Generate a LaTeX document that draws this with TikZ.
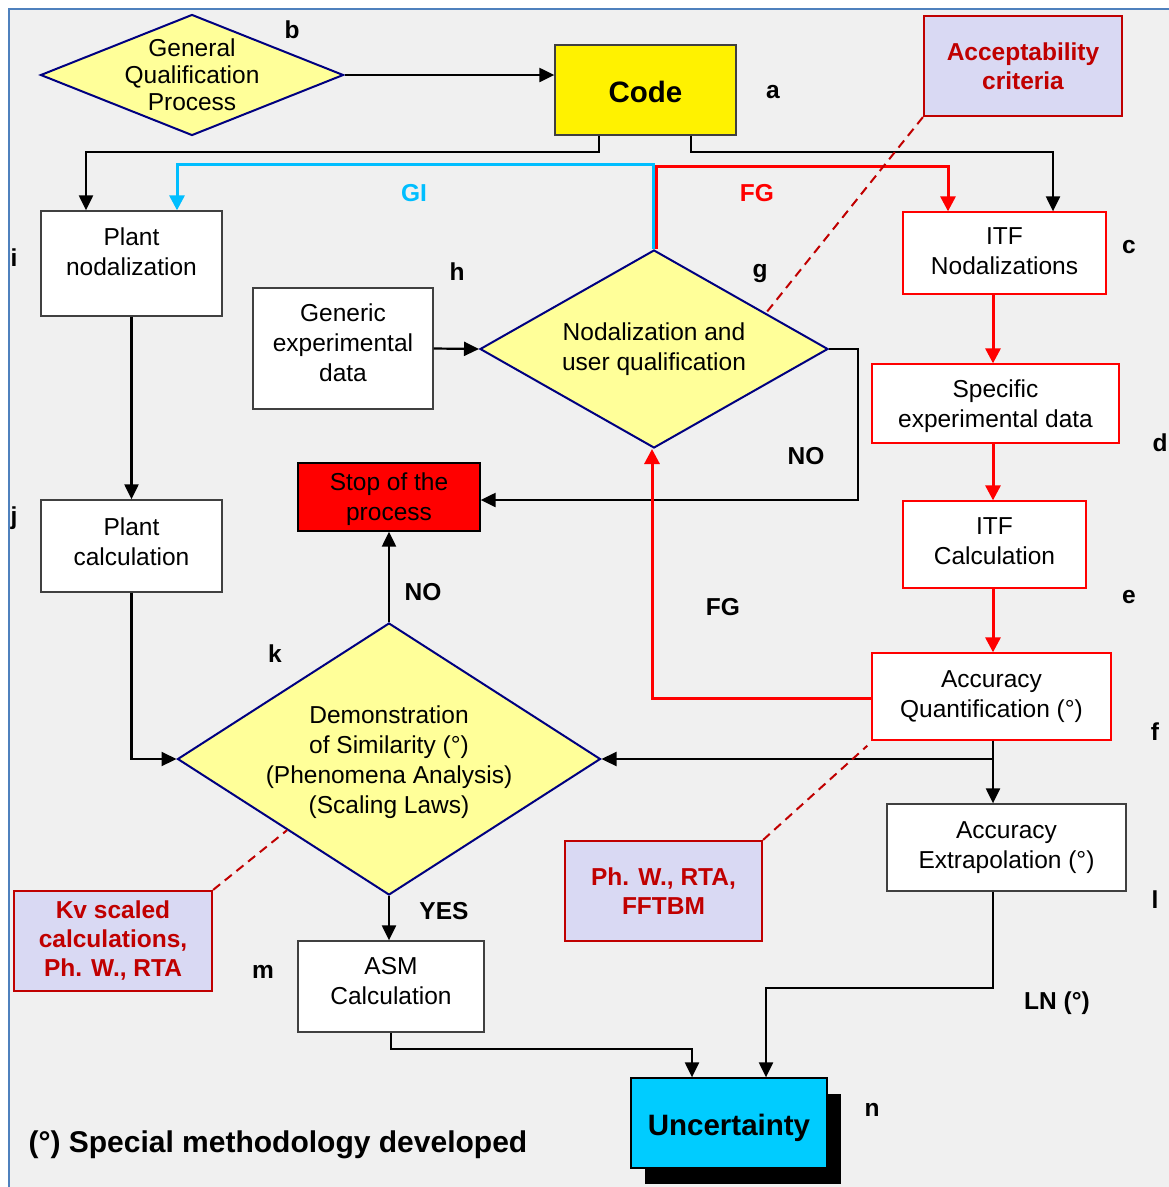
\documentclass[tikz,border=0pt]{standalone}
\usepackage{fontspec}
\setmainfont{Liberation Sans}
\usetikzlibrary{shapes.geometric,arrows.meta,calc,shadows}

\definecolor{bggray}{RGB}{240,240,240}
\definecolor{frameblue}{RGB}{79,129,189}
\definecolor{diafill}{RGB}{255,255,153}
\definecolor{navy}{RGB}{0,0,128}
\definecolor{boxedge}{RGB}{64,64,64}
\definecolor{darkred}{RGB}{192,0,0}
\definecolor{lavender}{RGB}{217,217,243}
\definecolor{giblue}{RGB}{0,190,255}
\definecolor{uncblue}{RGB}{0,204,255}

\tikzset{
  txt/.style={font=\fontsize{24.5}{30}\selectfont, align=center, inner sep=0pt},
  plainbox/.style={rectangle, draw=boxedge, line width=1.3pt, fill=white, inner sep=0pt},
  itfbox/.style={plainbox, draw=red},
  notebox/.style={rectangle, draw=darkred, line width=2.2pt, fill=lavender, inner sep=0pt,
    align=center, text=darkred, font=\bfseries\fontsize{24.5}{29}\selectfont},
  decision/.style={diamond, draw=navy, line width=2pt, fill=diafill, inner sep=0pt},
  tag/.style={font=\bfseries\fontsize{24.5}{30}\selectfont},
  conn/.style={draw=black, line width=2.2pt, -{Triangle[length=15pt,width=14pt]}},
  fgline/.style={draw=red, line width=3pt, -{Triangle[length=15pt,width=15pt]}},
  giline/.style={draw=giblue, line width=3pt, -{Triangle[length=15pt,width=15pt]}},
  noteline/.style={draw=darkred, line width=2pt, dash pattern=on 9pt off 6pt},
}

\begin{document}
\begin{tikzpicture}[x=1pt, y=-1pt]
  % page and frame
  \useasboundingbox (0,0) rectangle (1169,1187);
  \fill[white] (0,0) rectangle (1169,1187);
  \fill[bggray] (9,9) rectangle (1169,1187);
  \draw[frameblue, line width=1.5pt] (9,1187) -- (9,9) -- (1169,9);

  % column of the ITF chain
  \coordinate (col) at (993,0);

  % shapes
  \node[decision, minimum width=303pt, minimum height=121pt] (gqp) at (192,75) {};
  \node[plainbox, fill=yellow, minimum width=181pt, minimum height=90pt] (code) at (645.5,90) {};
  \node[notebox, minimum width=198pt, minimum height=100pt] (acc) at (1023,66) {Acceptability\\criteria};
  \node[plainbox, minimum width=181pt, minimum height=105pt] (pn) at (131.5,263.5) {};
  \node[itfbox, minimum width=203pt, minimum height=82pt] (itfn) at (1004.5,253) {};
  \node[plainbox, minimum width=180pt, minimum height=121pt] (ged) at (343,348.5) {};
  \node[decision, minimum width=348pt, minimum height=198pt] (g) at (654,349) {};
  \node[itfbox, minimum width=247pt, minimum height=79pt] (sed) at (995.5,403.5) {};
  \node[plainbox, fill=red, draw=black, minimum width=182pt, minimum height=68pt] (stop) at (389,497) {};
  \node[plainbox, minimum width=181pt, minimum height=92pt] (pc) at (131.5,546) {};
  \node[itfbox, minimum width=183pt, minimum height=87pt] (itfc) at (994.5,544.5) {};
  \node[itfbox, minimum width=239pt, minimum height=87pt] (aq) at (991.5,696.5) {};
  \node[decision, minimum width=423pt, minimum height=272pt] (k) at (389,759) {};
  \node[plainbox, minimum width=239pt, minimum height=87pt] (ae) at (1006.5,847.5) {};
  \node[notebox, minimum width=197pt, minimum height=100pt] (ph) at (663.5,891) {Ph. W., RTA,\\FFTBM};
  \node[notebox, minimum width=198pt, minimum height=100pt] (kv) at (113,941) {Kv scaled\\calculations,\\Ph. W., RTA};
  \node[plainbox, minimum width=186pt, minimum height=91pt] (asm) at (391,986.5) {};
  \node[plainbox, draw=black, fill=uncblue, minimum width=196pt, minimum height=90pt,
        drop shadow={shadow xshift=14pt, shadow yshift=-16pt, fill=black, opacity=1}] (unc) at (729,1123) {};

  % texts inside the shapes (shifts are in page units, positive = up)
  \node[txt, font=\fontsize{24.5}{27}\selectfont] (gqptxt) at (gqp) {General\\Qualification\\Process};
  \node[txt, font=\bfseries\fontsize{29.5}{34}\selectfont] (codetxt) at ([yshift=-2pt]code.center) {Code};
  \node[txt] (pntxt) at ([yshift=12pt]pn.center) {Plant\\nodalization};
  \node[txt] (itfntxt) at ([yshift=2pt]itfn.center) {ITF\\Nodalizations};
  \node[txt] (gedtxt) at ([yshift=6pt]ged.center) {Generic\\experimental\\data};
  \node[txt] (gtxt) at (g) {Nodalization and\\user qualification};
  \node[txt] (sedtxt) at ([yshift=-3pt]sed.center) {Specific\\experimental data};
  \node[txt] (stoptxt) at ([yshift=-2pt]stop.center) {Stop of the\\process};
  \node[txt] (pctxt) at ([yshift=4pt]pc.center) {Plant\\calculation};
  \node[txt] (itfctxt) at ([yshift=3pt]itfc.center) {ITF\\Calculation};
  \node[txt] (aqtxt) at (aq.center) {Accuracy\\Quantification (°)};
  \node[txt] (ktxt) at ([yshift=-3.5pt]k.center) {Demonstration\\of Similarity (°)\\(Phenomena Analysis)\\(Scaling Laws)};
  \node[txt] (aetxt) at (ae.center) {Accuracy\\Extrapolation (°)};
  \node[txt] (asmtxt) at ([yshift=5pt]asm.center) {ASM\\Calculation};
  \node[txt, font=\bfseries\fontsize{29.5}{34}\selectfont] (unctxt) at ([yshift=-5pt]unc.center) {Uncertainty};

  % connectors
  \draw[conn] (gqp.east) -- (gqp.east -| code.west);

  \draw[conn] ([xshift=45pt]code.south west) -- ++(0,16) -| ([xshift=-45.5pt]pn.north);
  \draw[conn] ([xshift=-46pt]code.south east) -- ++(0,16) -| ([xshift=48.5pt]itfn.north);

  \draw[giline] ([xshift=-1pt]g.north) -- ++(0,-85) -| ([xshift=45.5pt]pn.north);
  \draw[fgline] ([xshift=2pt]g.north) -- ++(0,-83) -| ([xshift=-56.5pt]itfn.north);

  \draw[conn] (ged.east) -- (g.west);
  \draw[conn] (g.east) -- ++(29,0) |- ([yshift=-3pt]stop.east);

  \draw[conn] (pn.south) -- (pc.north);
  \draw[conn] (pc.south) |- (k.west);
  \draw[conn] (k.north) -- (stop.south);
  \draw[conn] (k.south) -- (k.south |- asm.north);
  \draw[conn] (asm.south) -- ++(0,16) -| ([xshift=-37pt]unc.north);

  \draw[fgline] (itfn.south -| col) -- (sed.north -| col);
  \draw[fgline] (sed.south -| col) -- (itfc.north -| col);
  \draw[fgline] (itfc.south -| col) -- (aq.north -| col);
  \draw[fgline] ([yshift=-1.5pt]aq.west) -| ([xshift=-2pt]g.south);

  \draw[conn] (aq.south -| col) |- (k.east);
  \draw[conn] (aq.south -| col) -- (ae.north -| col);
  \draw[conn] (ae.south -| col) -- ++(0,96) -| ([xshift=37pt]unc.north);

  % annotation leaders
  \draw[noteline] (acc.south west) -- ($(g.north)!0.64!(g.east)$);
  \draw[noteline] (ph.north east) -- ([shift={(-4pt,-5pt)}]aq.south west);
  \draw[noteline] (kv.north east) -- ($(k.west)!0.52!(k.south)$);

  % connector labels
  \node[tag, text=giblue] (lgi) at (414,193) {GI};
  \node[tag, text=red] (lfg1) at (757,193) {FG};
  \node[tag] (lno1) at (806,456) {NO};
  \node[tag] (lno2) at (423,592) {NO};
  \node[tag] (lfg2) at (723,607) {FG};
  \node[tag] (lyes) at (444,911) {YES};
  \node[tag] (lln) at (1057,1003) {LN (°)};

  % step letters
  \node[tag] (ta) at (773,92) {a};
  \node[tag] (tb) at (292,30) {b};
  \node[tag] (tc) at (1129,247) {c};
  \node[tag] (td) at (1160,443) {d};
  \node[tag] (te) at (1129,597) {e};
  \node[tag] (tf) at (1155,732) {f};
  \node[tag] (tg) at (760,273) {g};
  \node[tag] (th) at (457,272) {h};
  \node[tag] (ti) at (14,258) {i};
  \node[tag] (tj) at (14,518) {j};
  \node[tag] (tk) at (275,654) {k};
  \node[tag] (tl) at (1155,900) {l};
  \node[tag] (tm) at (263,972) {m};
  \node[tag] (tn) at (872,1110) {n};

  % footnote
  \node[anchor=west, font=\bfseries\fontsize{30}{34}\selectfont] (foot) at (25,1145) {(°) Special methodology developed};
\end{tikzpicture}
\end{document}
